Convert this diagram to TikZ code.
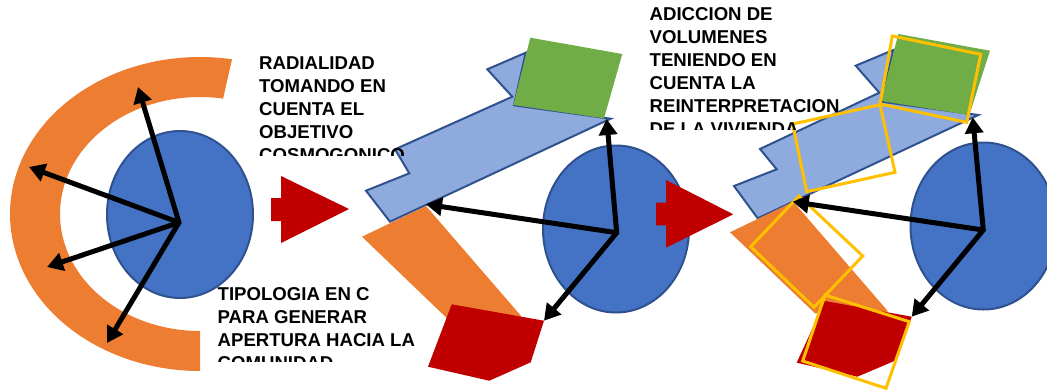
\documentclass[tikz,border=0pt]{standalone}
\usepackage{fontspec}
\setmainfont{Liberation Sans}[BoldFont={Liberation Sans Bold}]
\usetikzlibrary{arrows.meta,shapes.geometric}
\definecolor{bluefill}{HTML}{4472C4}
\definecolor{blueedge}{HTML}{2F528F}
\definecolor{lightblue}{HTML}{8FAADC}
\definecolor{orangefill}{HTML}{ED7D31}
\definecolor{greenfill}{HTML}{70AD47}
\definecolor{redfill}{HTML}{C00000}
\definecolor{goldline}{HTML}{FFC000}
\tikzset{
  disc/.style={ellipse,draw=blueedge,line width=2pt,fill=bluefill,minimum width=146pt,minimum height=167pt,inner sep=0pt},
  ray/.style={draw=black,line width=5pt,-{Triangle[length=16pt,width=18pt]},shorten <=-1pt},
  wing/.style={fill=lightblue,draw=blueedge,line width=2pt,line join=miter},
  block/.style={fill=orangefill},
  greenblock/.style={fill=greenfill},
  redblock/.style={fill=redfill},
  goldsq/.style={draw=goldline,line width=3pt,line join=miter},
  label/.style={anchor=north west,inner sep=0pt,align=left,font=\bfseries\fontsize{18.6}{23}\selectfont,text=black}
}
\begin{document}
\begin{tikzpicture}[x=1pt,y=-1pt]
\useasboundingbox (0,0) rectangle (1047,389);
% first figure
\fill[block] plot[domain=80.3:270,samples=120] ({200+190*cos(\x)},{214-157*sin(\x)})
  -- plot[domain=270:80.5,samples=120] ({200+140*cos(\x)},{214-117*sin(\x)}) -- cycle;
\node[disc] (d1) at (180,214.5) {};
\coordinate (h1) at (179,222.5);
\coordinate (a1) at (138,87);
\coordinate (a2) at (29,167);
\coordinate (a3) at (47,267);
\coordinate (a4) at (107,343);
\draw[ray] (h1) -- (a1);
\draw[ray] (h1) -- (a2);
\draw[ray] (h1) -- (a3);
\draw[ray] (h1) -- (a4);
\fill[redblock] (271,198) -- (281,198) -- (281,176) -- (349,209) -- (281,243) -- (281,221) -- (271,221) -- cycle;
% second figure
\filldraw[wing] (487.3,69.3) -- (525.7,52.7) -- (514,105.3) -- (610.7,118.7) -- (390,221.7) -- (366,190.7) -- (409.3,173.3) -- (395,149.3) -- (512.3,96.7) -- cycle;
\fill[greenblock] (530.3,37.7) -- (622.3,54) -- (604,118.3) -- (513.3,105) -- cycle;
\fill[block] (362,236.7) -- (426,206) -- (521.7,316.7) -- (446.7,318) -- cycle;
\fill[redblock] (451.7,304.3) -- (544,320.7) -- (530.7,362.3) -- (489.3,380.7) -- (428,366.7) -- cycle;
\node[disc] (d2) at (616,229) {};
\coordinate (h2) at (616.7,232.7);
\coordinate (b1) at (606.7,119);
\coordinate (b2) at (426,204.3);
\coordinate (b3) at (544,320.7);
\draw[ray] (h2) -- (b1);
\draw[ray] (h2) -- (b2);
\draw[ray] (h2) -- (b3);
\fill[redblock] (656,202.7) -- (666,202.7) -- (666,180) -- (733.3,214.3) -- (666,247.7) -- (666,225.3) -- (656,225.3) -- cycle;
% third figure
\filldraw[wing] (855.7,65.7) -- (893.3,50) -- (881.7,101.7) -- (978.3,115) -- (757.7,218.3) -- (734,186) -- (776.7,169.3) -- (760,149) -- (879.3,92.7) -- cycle;
\fill[greenblock] (898.3,34) -- (990,50.7) -- (969.3,115) -- (881,101) -- cycle;
\fill[block] (730,232.3) -- (793.3,201.7) -- (888.3,311.7) -- (815,313.3) -- cycle;
\fill[redblock] (825,301) -- (911.7,316.7) -- (896.7,360) -- (857.3,376.7) -- (796.7,362.7) -- cycle;
\draw[goldsq] (892.3,36) -- (980.7,54.3) -- (966.7,122.3) -- (880,104) -- cycle;
\draw[goldsq] (792.7,124) -- (880,104.7) -- (895,172.3) -- (806.7,191.7) -- cycle;
\draw[goldsq] (799,196) -- (862.7,256) -- (814,307.3) -- (750.7,246.7) -- cycle;
\draw[goldsq] (825,295) -- (909.3,321.7) -- (886,388.3) -- (802.7,361) -- cycle;
\node[disc] (d3) at (983.5,226) {};
\coordinate (h3) at (983.3,230);
\coordinate (c1) at (972.7,117.3);
\coordinate (c2) at (792.7,201.7);
\coordinate (c3) at (911.7,316.7);
\draw[ray] (h3) -- (c1);
\draw[ray] (h3) -- (c2);
\draw[ray] (h3) -- (c3);
% labels, each cut off by its box
\begin{scope}
\clip (250,40) rectangle (420,155);
\node[label] (t1) at (259,56.5) {RADIALIDAD\\TOMANDO EN\\CUENTA EL\\OBJETIVO\\COSMOGONICO};
\end{scope}
\begin{scope}
\clip (210,280) rectangle (430,361);
\node[label] (t2) at (217.5,287.5) {TIPOLOGIA EN C\\PARA GENERAR\\APERTURA HACIA LA\\COMUNIDAD};
\end{scope}
\begin{scope}
\clip (640,0) rectangle (850,129);
\node[label] (t3) at (649.5,7.5) {ADICCION DE\\VOLUMENES\\TENIENDO EN\\CUENTA LA\\REINTERPRETACION\\DE LA VIVIENDA};
\end{scope}
\end{tikzpicture}
\end{document}
